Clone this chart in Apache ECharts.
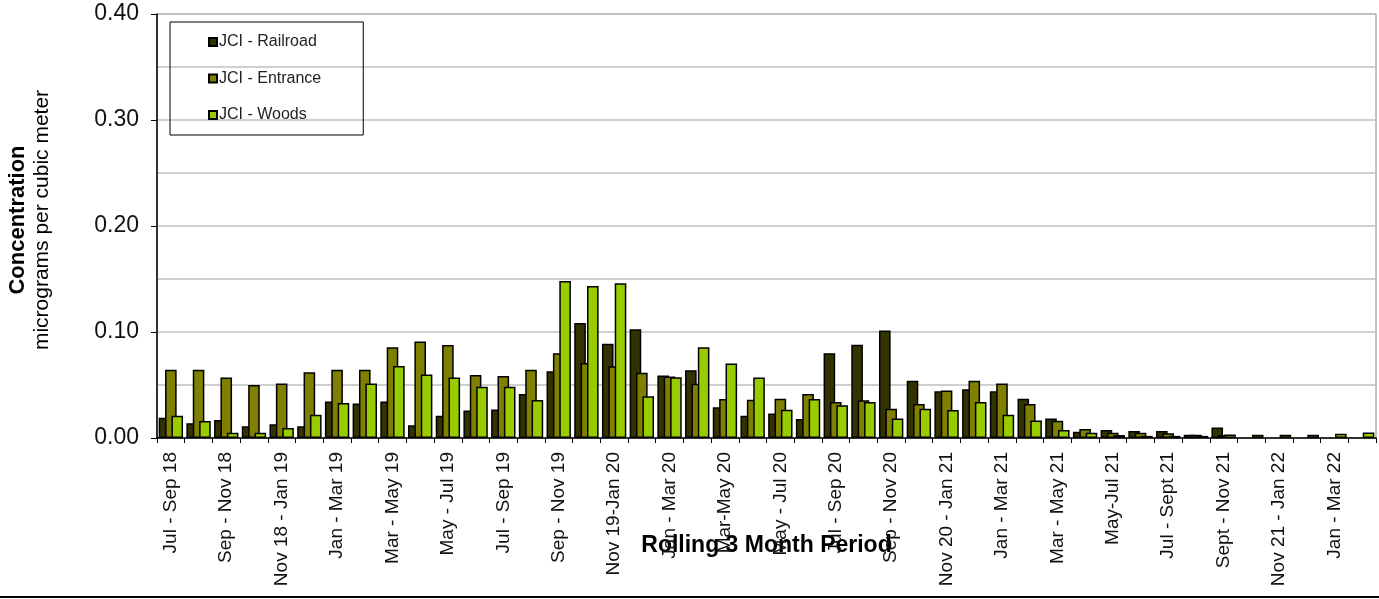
<!DOCTYPE html>
<html>
<head>
<meta charset="utf-8">
<script src="https://cdn.jsdelivr.net/npm/echarts@6/dist/echarts.min.js"></script>
<style>
  html, body { margin: 0; padding: 0; background: #fff; }
  #chart { width: 1379px; height: 599px; }
</style>
</head>
<body>
<div id="chart"></div>
<script>
const categories = [
  'Jul - Sep 18', 'Aug - Oct 18', 'Sep - Nov 18', 'Oct - Dec 18', 'Nov 18 - Jan 19', 'Dec 18 - Feb 19',
  'Jan - Mar 19', 'Feb - Apr 19', 'Mar - May 19', 'Apr - Jun 19', 'May - Jul 19', 'Jun - Aug 19',
  'Jul - Sep 19', 'Aug - Oct 19', 'Sep - Nov 19', 'Oct - Dec 19', 'Nov 19-Jan 20', 'Dec 19-Feb 20',
  'Jan - Mar 20', 'Feb - Apr 20', 'Mar-May 20', 'Apr-Jun 20', 'May - Jul 20', 'Jun - Aug 20',
  'Jul - Sep 20', 'Aug - Oct 20', 'Sep - Nov 20', 'Oct - Dec 20', 'Nov 20 - Jan 21', 'Dec 20 - Feb 21',
  'Jan - Mar 21', 'Feb - Apr 21', 'Mar - May 21', 'Apr - Jun 21', 'May-Jul 21', 'Jun-Aug 21',
  'Jul - Sept 21', 'Aug - Oct 21', 'Sept - Nov 21', 'Oct - Dec 21', 'Nov 21 - Jan 22', 'Dec 21 - Feb 22',
  'Jan - Mar 22', 'Feb - Apr 22'
];

const railroad = [0.019, 0.014, 0.017, 0.011, 0.013, 0.011, 0.0345, 0.0325, 0.0345, 0.012,
  0.021, 0.026, 0.027, 0.0415, 0.063, 0.1085, 0.089, 0.1025, 0.059, 0.064,
  0.029, 0.021, 0.023, 0.018, 0.080, 0.088, 0.1015, 0.054, 0.044, 0.046,
  0.044, 0.037, 0.0185, 0.006, 0.0075, 0.0066, 0.0066, 0.003, 0.010, null,
  null, null, null, null];

const entrance = [0.0645, 0.0645, 0.057, 0.050, 0.0515, 0.062, 0.0645, 0.0645, 0.0855, 0.091,
  0.0877, 0.0594, 0.0585, 0.0644, 0.080, 0.0708, 0.0676, 0.0616, 0.058, 0.0512,
  0.0368, 0.036, 0.037, 0.0415, 0.034, 0.0355, 0.0276, 0.032, 0.0449, 0.054,
  0.0515, 0.032, 0.0163, 0.0085, 0.005, 0.005, 0.0045, 0.003, 0.0028, null,
  null, null, null, null];

const woods = [0.021, 0.016, 0.005, 0.005, 0.0095, 0.022, 0.033, 0.0515, 0.068, 0.060,
  0.057, 0.0484, 0.0484, 0.0358, 0.148, 0.1434, 0.1459, 0.0393, 0.0572, 0.0855,
  0.0704, 0.057, 0.0267, 0.0368, 0.031, 0.034, 0.0185, 0.0276, 0.0264, 0.034,
  0.022, 0.0166, 0.0075, 0.005, 0.0028, 0.002, 0.002, 0.002, 0.0034, 0.003,
  0.003, 0.003, 0.004, 0.0053];

const FONT = '"Liberation Sans", Arial, sans-serif';

const chart = echarts.init(document.getElementById('chart'), null, { renderer: 'canvas' });

function barSeries(name, data, color) {
  return {
    name: name,
    type: 'bar',
    data: data,
    barGap: '-45%',
    barCategoryGap: '12%',
    itemStyle: { color: color, borderColor: '#000', borderWidth: 1.5 }
  };
}

const option = {
  animation: false,
  textStyle: { fontFamily: FONT },
  grid: {
    left: 157, right: 3, top: 14, bottom: 161,
    containLabel: false,
    outerBoundsMode: 'none',
    show: true, borderColor: '#888', borderWidth: 1, backgroundColor: 'transparent'
  },
  legend: {
    orient: 'vertical',
    left: 170, top: 22,
    padding: [12, 42, 12, 38],
    itemGap: 20.5,
    itemWidth: 8, itemHeight: 8,
    icon: 'rect',
    borderColor: '#000', borderWidth: 1,
    textStyle: { fontSize: 16, color: '#222', fontFamily: FONT, padding: [0, 0, 0, -3] },
    data: ['JCI - Railroad', 'JCI - Entrance', 'JCI - Woods']
  },
  xAxis: {
    type: 'category',
    data: categories,
    name: 'Rolling 3 Month Period',
    nameLocation: 'middle',
    nameGap: 96,
    nameMoveOverlap: false,
    nameTextStyle: { fontSize: 23, fontWeight: 'bold', color: '#000', fontFamily: FONT },
    axisLine: { lineStyle: { color: '#000', width: 1.5 } },
    axisTick: { show: true, interval: 0, length: 5, lineStyle: { color: '#000' } },
    axisLabel: { interval: 1, rotate: 90, fontSize: 19, color: '#111', margin: 14, fontFamily: FONT }
  },
  yAxis: {
    type: 'value',
    min: 0, max: 0.4, interval: 0.1,
    name: '{a|Concentration}\n{b|micrograms per cubic meter}',
    nameLocation: 'middle',
    nameRotate: 90,
    nameGap: 103,
    nameMoveOverlap: false,
    nameTextStyle: {
      padding: [0, 0, 0, 12],
      rich: {
        a: { fontSize: 22, fontWeight: 'bold', color: '#000', fontFamily: FONT, lineHeight: 24 },
        b: { fontSize: 21, color: '#000', fontFamily: FONT, lineHeight: 24 }
      }
    },
    axisLine: { show: true, lineStyle: { color: '#000', width: 1.5 } },
    axisTick: { show: true, length: 6, lineStyle: { color: '#000' } },
    axisLabel: { fontSize: 23, color: '#111', margin: 18, fontFamily: FONT,
      formatter: v => v.toFixed(2) },
    splitLine: { show: true, lineStyle: { color: '#c0c0c0', width: 1.5 } },
    minorTick: { show: false, splitNumber: 2 },
    minorSplitLine: { show: true, lineStyle: { color: '#c0c0c0', width: 1.5 } }
  },
  graphic: [{
    type: 'line',
    shape: { x1: 0, y1: 597, x2: 1379, y2: 597 },
    style: { stroke: '#000', lineWidth: 2 }
  }],
  series: [
    barSeries('JCI - Railroad', railroad, '#333300'),
    barSeries('JCI - Entrance', entrance, '#808000'),
    barSeries('JCI - Woods', woods, '#99cc00')
  ]
};

chart.setOption(option);
</script>
</body>
</html>
